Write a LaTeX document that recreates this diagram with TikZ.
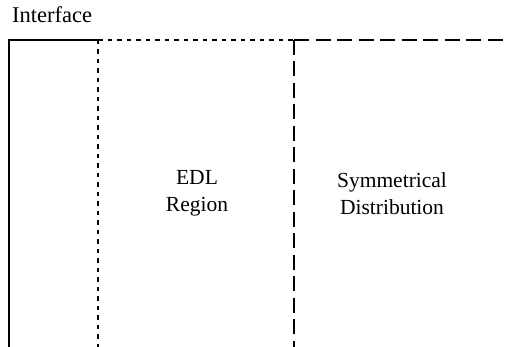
\documentclass[tikz,border=0pt]{standalone}
\usepackage{fontspec}
\setmainfont{Liberation Serif}
\begin{document}
\begin{tikzpicture}[x=1pt,y=-1pt,
  label/.style={font=\fontsize{21.5}{27.5}\selectfont, align=center, inner sep=0pt},
  wall/.style={line width=1.4pt},
  edl/.style={line width=1.2pt, dash pattern=on 4.5pt off 5pt},
  bulk/.style={line width=1.2pt, dash pattern=on 15pt off 6.5pt}]
\useasboundingbox (0,0) rectangle (507,347);
% boundary corners
\coordinate (wallTop) at (9,40);
\coordinate (wallBot) at (9,347);
\coordinate (edlTop) at (98,40);
\coordinate (edlBot) at (98,347);
\coordinate (bulkTop) at (294,40);
\coordinate (bulkBot) at (294,347);
\coordinate (farEnd) at (507,40);
% solid interface wall
\draw[wall] (wallBot) -- (wallTop) -- (edlTop);
% edge of the double layer
\draw[edl] (edlTop) -- (edlBot);
\draw[edl] (edlTop) -- (bulkTop);
% edge of the bulk region
\draw[bulk] (bulkTop) -- (bulkBot);
\draw[bulk] (bulkTop) -- (farEnd);
% labels
\node[label, anchor=west, font=\fontsize{22.5}{28}\selectfont] (iface) at (12,15) {Interface};
\node[label] (edlText) at (197,193.5) {EDL\\Region};
\node[label] (symText) at (392,193.5) {Symmetrical\\Distribution};
\end{tikzpicture}
\end{document}
